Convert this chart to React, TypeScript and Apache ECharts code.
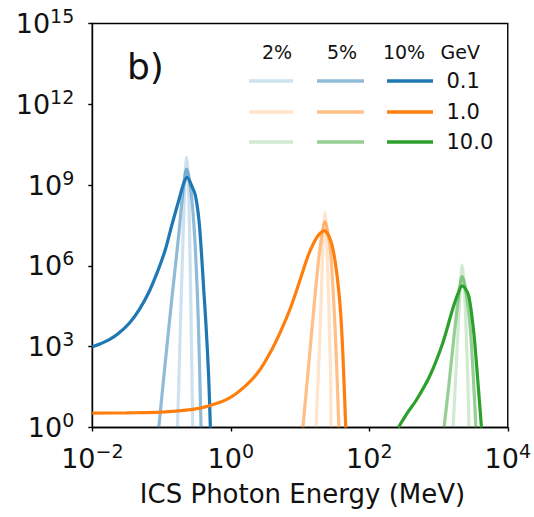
import React, { useEffect, useRef } from "react";
import * as echarts from "echarts";

// ICS photon energy (MeV) vs counts
const blue10: [number, number][] = [
  [0.01, 1.0e3], [0.0129, 1.26e3], [0.0178, 1.86e3], [0.0245, 3.3e3], [0.0347, 7.8e3],
  [0.0479, 2.45e4], [0.0661, 1.1e5], [0.0912, 8.1e5], [0.115, 4.5e6], [0.141, 3.3e7],
  [0.178, 2.8e8], [0.209, 1.17e9], [0.234, 1.95e9], [0.275, 9.0e8], [0.309, 4.0e8],
  [0.347, 5.0e7], [0.38, 2.2e6], [0.407, 1.26e5], [0.437, 7.4e3], [0.479, 78],
  [0.507, 1],
];
const blue5: [number, number][] = [
  [0.0912, 1], [0.112, 200], [0.141, 6.3e4], [0.178, 1.6e7], [0.204, 6.3e8],
  [0.229, 3.9e9], [0.263, 7.9e8], [0.302, 1.0e7], [0.339, 1.0e4], [0.372, 1],
];
const blue2: [number, number][] = [
  [0.17, 1], [0.186, 3.2e3], [0.204, 1.0e7], [0.219, 1.6e9], [0.229, 1.07e10],
  [0.243, 2.0e9], [0.257, 3.2e6], [0.269, 3.2e3], [0.282, 1],
];
const orange10: [number, number][] = [
  [0.01, 3.4], [0.0316, 3.5], [0.1, 3.7], [0.245, 4.5], [0.479, 6.3], [0.933, 12],
  [1.585, 33], [2.51, 117], [3.89, 760], [5.37, 4.2e3], [7.41, 3.1e4], [10.2, 3.5e5],
  [13.5, 2.95e6], [17.8, 1.23e7], [22.4, 2.04e7], [27.5, 9.1e6], [32.4, 1.26e6],
  [38.0, 3.1e4], [41.7, 430], [45.7, 1],
];
const orange5: [number, number][] = [
  [11.0, 1], [13.2, 160], [15.8, 2.5e4], [19.1, 3.2e6], [22.9, 4.4e7],
  [26.9, 6.3e6], [30.9, 3.2e4], [33.9, 160], [36.3, 1],
];
const orange2: [number, number][] = [
  [17.0, 1], [19.1, 1.0e3], [20.9, 1.0e6], [22.1, 3.2e7], [22.9, 1.0e8],
  [24.0, 2.0e7], [25.7, 1.0e5], [27.5, 160], [28.0, 1],
];
const green10: [number, number][] = [
  [263, 1], [355, 3.5], [479, 10.5], [741, 78], [1148, 1350], [1585, 2.3e4],
  [1862, 7.9e4], [2188, 1.8e5], [2455, 1.4e5], [2754, 7.2e4], [3236, 3.2e3],
  [3715, 44], [4169, 1],
];
const green5: [number, number][] = [
  [1202, 1], [1413, 40], [1660, 2000], [1950, 7.9e4], [2188, 4.0e5],
  [2512, 1.0e5], [2884, 4000], [3162, 100], [3467, 1],
];
const green2: [number, number][] = [
  [1622, 1], [1778, 100], [1950, 1.0e4], [2089, 2.5e5], [2188, 1.07e6],
  [2344, 2.0e5], [2512, 3.2e3], [2630, 100], [2754, 1],
];

const widths = ["2%", "5%", "10%"];
const energies = ["0.1", "1.0", "10.0"];
const unitLabel = "GeV";
const xTitle = "ICS Photon Energy (MeV)";
const panelLabel = "b)";

const COLORS = ["#1f77b4", "#ff7f0e", "#2ca02c"];
const ALPHAS = [0.22, 0.5, 1];

const groups = [
  [blue2, blue5, blue10],
  [orange2, orange5, orange10],
  [green2, green5, green10],
];

const FONT = "DejaVu Sans";

function supLabel(v: number) {
  const e = Math.round(Math.log10(v));
  const s = e < 0 ? "\u2212" + -e : String(e);
  return `{b|10}{s|${s}}`;
}

const richTick = {
  b: { fontSize: 27, lineHeight: 34, fontFamily: FONT, color: "#111" },
  s: { fontSize: 19, lineHeight: 26, fontFamily: FONT, color: "#111", verticalAlign: "top" },
};

export default function App() {
  const ref = useRef<HTMLDivElement>(null);
  useEffect(() => {
    const chart = echarts.init(ref.current!, null, { renderer: "svg" });
    const series: any[] = [];
    groups.forEach((g, gi) => {
      g.forEach((data, wi) => {
        series.push({
          type: "line",
          data,
          symbol: "none",
          smooth: 0.3,
          clip: true,
          silent: true,
          z: 2 + wi,
          lineStyle: { color: COLORS[gi], width: 3.2, opacity: ALPHAS[wi] },
        });
      });
    });

    const legendX = [[249, 293], [317, 364], [387, 433]];
    const headerX = [277, 342, 404];
    const rowY = [81, 112, 142];
    const graphic: any[] = [];
    widths.forEach((w, i) => {
      graphic.push({
        type: "text", x: headerX[i], y: 52,
        style: { text: w, font: `19px ${FONT}`, fill: "#111", textAlign: "center", textVerticalAlign: "middle" },
      });
    });
    graphic.push({
      type: "text", x: 440.5, y: 52,
      style: { text: unitLabel, font: `19px ${FONT}`, fill: "#111", textAlign: "left", textVerticalAlign: "middle" },
    });
    energies.forEach((en, gi) => {
      widths.forEach((_, wi) => {
        graphic.push({
          type: "line",
          shape: { x1: legendX[wi][0], y1: rowY[gi], x2: legendX[wi][1], y2: rowY[gi] },
          style: { stroke: COLORS[gi], lineWidth: 3.5, opacity: ALPHAS[wi] },
        });
      });
      graphic.push({
        type: "text", x: 446.5, y: rowY[gi],
        style: { text: en, font: `21px ${FONT}`, fill: "#111", textAlign: "left", textVerticalAlign: "middle" },
      });
    });
    graphic.push({
      type: "text", x: 127, y: 66,
      style: { text: panelLabel, font: `36px ${FONT}`, fill: "#111", textAlign: "left", textVerticalAlign: "middle" },
    });
    graphic.push({
      type: "text", x: 302.5, y: 494,
      style: { text: xTitle, font: `26px ${FONT}`, fill: "#111", textAlign: "center", textVerticalAlign: "middle" },
    });

    chart.setOption({
      animation: false,
      backgroundColor: "#fff",
      grid: { left: 92.3, right: 21.3, top: 23.5, bottom: 89.5, show: true, borderColor: "#000", borderWidth: 1.4, containLabel: false },
      xAxis: {
        type: "log", logBase: 10, min: 0.01, max: 10000, interval: 2,
        axisLine: { show: true, onZero: false, lineStyle: { color: "#000", width: 1.4 } },
        axisTick: { show: true, inside: false, length: 4, lineStyle: { color: "#000", width: 1.4 } },
        splitLine: { show: false }, minorTick: { show: false },
        axisLabel: { formatter: supLabel, rich: richTick, margin: 14, showMinLabel: true, showMaxLabel: true },
      },
      yAxis: {
        type: "log", logBase: 10, min: 1, max: 1e15, interval: 3,
        axisLine: { show: true, onZero: false, lineStyle: { color: "#000", width: 1.4 } },
        axisTick: { show: true, inside: false, length: 4, lineStyle: { color: "#000", width: 1.4 } },
        splitLine: { show: false }, minorTick: { show: false },
        axisLabel: { formatter: supLabel, rich: richTick, margin: 18, showMinLabel: true, showMaxLabel: true },
      },
      series,
      graphic,
    });
    return () => chart.dispose();
  }, []);
  return (
    <div
      ref={ref}
      style={{ position: "fixed", left: 0, top: 0, width: 534, height: 517, background: "#fff" }}
    />
  );
}
